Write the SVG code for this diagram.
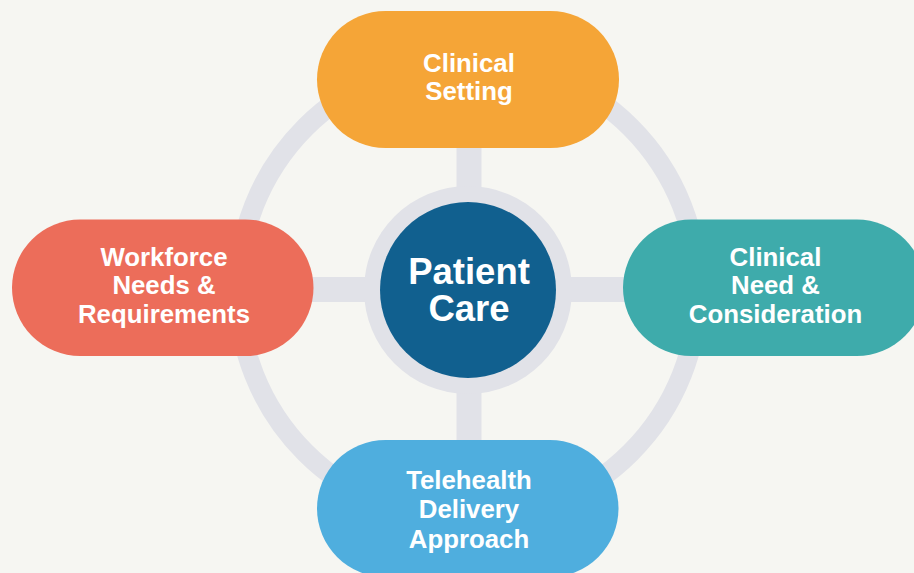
<svg xmlns="http://www.w3.org/2000/svg" width="914" height="573" viewBox="0 0 914 573">
<style>
.bg{fill:#f6f6f2}
.link{stroke:#e1e2e8;fill:none}
.lbl{font-family:"Liberation Sans",Arial,Helvetica,sans-serif;font-weight:bold;fill:#ffffff;text-anchor:middle}
.pill{font-size:25.8px}
.core{font-size:36.5px}
</style>
<rect class="bg" x="0" y="0" width="914" height="573"/>
<g id="connectors">
<circle class="link" cx="468" cy="290" r="230" stroke-width="20"/>
<line class="link" x1="469" y1="140" x2="469" y2="450" stroke-width="25"/>
<line class="link" x1="300" y1="289.5" x2="640" y2="289.5" stroke-width="25"/>
</g>
<g id="patient-care">
<circle cx="468" cy="290" r="104" fill="#e1e2e8"/>
<circle cx="468" cy="290" r="88" fill="#11608f"/>
<text class="lbl core"><tspan x="469" y="284">Patient</tspan><tspan x="469" y="320.7">Care</tspan></text>
</g>
<g id="clinical-setting">
<rect x="317" y="11" width="302" height="137" rx="68.5" fill="#f5a537"/>
<text class="lbl pill"><tspan x="469" y="71.7">Clinical</tspan><tspan x="469" y="100.3">Setting</tspan></text>
</g>
<g id="workforce">
<rect x="12" y="219.5" width="301.5" height="136.5" rx="68.25" fill="#ec6d5a"/>
<text class="lbl pill"><tspan x="164" y="265.7">Workforce</tspan><tspan x="164" y="294.3">Needs &amp;</tspan><tspan x="164" y="323.3">Requirements</tspan></text>
</g>
<g id="clinical-need">
<rect x="623" y="219.5" width="302" height="136.5" rx="68.25" fill="#3eabab"/>
<text class="lbl pill"><tspan x="775.5" y="265.7">Clinical</tspan><tspan x="775.5" y="294.3">Need &amp;</tspan><tspan x="775.5" y="323.3">Consideration</tspan></text>
</g>
<g id="telehealth">
<rect x="317" y="440" width="301.5" height="137" rx="68.5" fill="#4faede"/>
<text class="lbl pill"><tspan x="469" y="489.3">Telehealth</tspan><tspan x="469" y="518.3">Delivery</tspan><tspan x="469" y="547.7">Approach</tspan></text>
</g>
</svg>
